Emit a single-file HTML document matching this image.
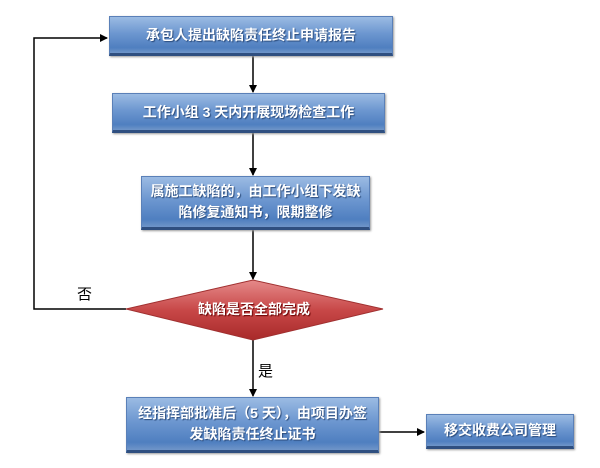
<!DOCTYPE html>
<html><head><meta charset="utf-8"><style>
body{margin:0;width:600px;height:468px;background:#fff;position:relative;overflow:hidden;font-family:"Liberation Sans","Noto Sans CJK SC",sans-serif}
.b{position:absolute;box-sizing:border-box;background:linear-gradient(#9bbbe3,#6d97d0 45%,#4f7fc0 85%,#6f95c8);border:1px solid #5a80b8;border-bottom:3px solid #2f4f80;color:#fff;font-weight:bold;font-size:14px;text-align:center;display:flex;align-items:center;justify-content:center;text-shadow:1px 1px 1px #2a4a7a;line-height:21px;box-shadow:1px 1px 2px #999}
.t{position:absolute;font-size:15px;color:#000}
</style></head><body>
<svg width="600" height="468" style="position:absolute;left:0;top:0">
<defs><linearGradient id="r" x1="0" y1="0" x2="0" y2="1"><stop offset="0" stop-color="#e68a8a"/><stop offset="0.5" stop-color="#c84848"/><stop offset="1" stop-color="#a82a2a"/></linearGradient>
<marker id="a" markerWidth="8" markerHeight="8" refX="7" refY="4" orient="auto" markerUnits="userSpaceOnUse"><path d="M0,0 L8,4 L0,8z" fill="#000"/></marker></defs>
<g stroke="#000" stroke-width="1.5" fill="none">
<line x1="253" y1="56" x2="253" y2="92" marker-end="url(#a)"/>
<line x1="253" y1="133" x2="253" y2="175" marker-end="url(#a)"/>
<line x1="253" y1="230" x2="253" y2="279" marker-end="url(#a)"/>
<line x1="253" y1="340" x2="253" y2="396" marker-end="url(#a)"/>
<polyline points="126,309 34,309 34,38 107,38" marker-end="url(#a)"/>
<line x1="379" y1="432" x2="424" y2="432" marker-end="url(#a)"/>
</g>
<polygon points="126,309 253,280 383,309 253,340" fill="url(#r)" stroke="#a03030"/>
<text x="254" y="314" text-anchor="middle" fill="#fff" font-weight="bold" font-size="14" font-family="Liberation Sans,Noto Sans CJK SC,sans-serif" style="text-shadow:1px 1px 1px #600">缺陷是否全部完成</text>
</svg>
<div class="b" style="left:109px;top:16px;width:284px;height:40px">承包人提出缺陷责任终止申请报告</div>
<div class="b" style="left:112px;top:93px;width:273px;height:40px">工作小组 3 天内开展现场检查工作</div>
<div class="b" style="left:141px;top:176px;width:229px;height:54px">属施工缺陷的，由工作小组下发缺<br>陷修复通知书，限期整修</div>
<div class="b" style="left:126px;top:397px;width:253px;height:56px">经指挥部批准后（5 天），由项目办签<br>发缺陷责任终止证书</div>
<div class="b" style="left:426px;top:414px;width:148px;height:35px">移交收费公司管理</div>
<div class="t" style="left:77px;top:283px">否</div>
<div class="t" style="left:258px;top:360px">是</div>
</body></html>
